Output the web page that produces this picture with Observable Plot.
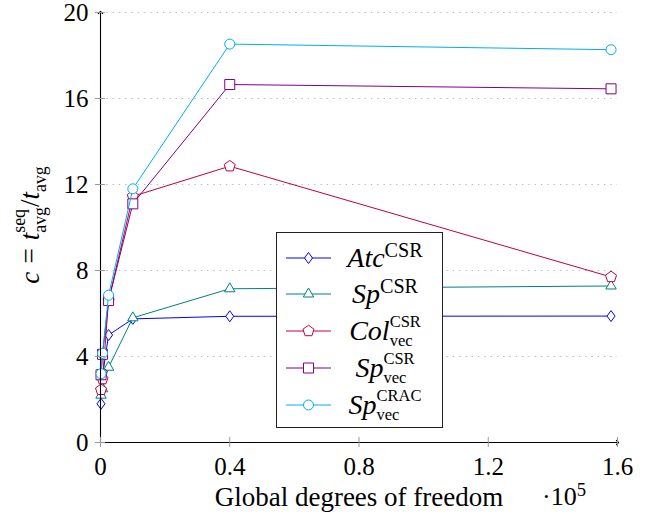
<!DOCTYPE html>
<html><head><meta charset="utf-8">
<script src="https://cdn.jsdelivr.net/npm/d3@7"></script>
<script src="https://cdn.jsdelivr.net/npm/@observablehq/plot@0.6"></script>
<style>
body{margin:0;background:#fff;}
#wrap{position:relative;width:650px;height:525px;font-family:"Liberation Serif","Tinos","Times New Roman","DejaVu Serif",serif;color:#000;overflow:hidden;}
#wrap svg.plot{position:absolute;left:0;top:0;}
.ov{position:absolute;white-space:nowrap;}
#xlabel{left:59px;width:600px;top:482px;font-size:27px;text-align:center;}
#xexp{left:542px;top:482px;font-size:26px;}
#ylabel{left:30px;top:225px;font-size:27px;transform:translate(-50%,-50%) rotate(-90deg);}
#legend{position:absolute;left:276px;top:232px;width:165px;height:194px;border:1.3px solid #222;background:#fff;}
.row{position:absolute;left:0;width:165px;height:0;}
.row svg{position:absolute;left:6px;top:-12px;}
.lab{position:absolute;left:52px;width:112px;top:-20px;height:40px;line-height:40px;text-align:center;font-size:28px;white-space:nowrap;}
i{font-style:italic;}
.sup1{font-size:0.72em;vertical-align:0.5em;line-height:0;}
.ss{display:inline-block;font-size:0.66em;line-height:1.16em;vertical-align:-0.42em;text-align:left;}
.ss span{display:block;}
.lab .ss{font-size:16.5px;line-height:18.2px;vertical-align:-5.5px;}
.sp{padding:0 0.3em;}
</style></head><body>
<div id="wrap"></div>
<script>
// ---- data ----
const dof = [0.0016, 0.0063, 0.025, 0.1, 0.4, 1.58];          // global DOF, ×10^5
const atcCSR    = [1.8, 3.1, 5.0, 5.75, 5.87, 5.88];
const spCSR     = [2.2, 2.5, 3.5, 5.8, 7.15, 7.28];
const colVecCSR = [2.45, 2.95, 6.6, 11.45, 12.85, 7.7];
const spVecCSR  = [3.15, 4.1, 6.6, 11.1, 16.65, 16.45];
const spVecCRAC = [3.2, 4.15, 6.85, 11.8, 18.53, 18.27];
const xTicks = [0, 0.4, 0.8, 1.2, 1.6];
const yTicks = [0, 4, 8, 12, 16, 20];
const xDomain = [0, 1.6];
const yDomain = [0, 20];
const seriesLabels = [
  '<i>Atc</i><span class="sup1">CSR</span>',
  '<i>Sp</i><span class="sup1">CSR</span>',
  '<i>Col</i><span class="ss"><span>CSR</span><span>vec</span></span>',
  '<i>Sp</i><span class="ss"><span>CSR</span><span>vec</span></span>',
  '<i>Sp</i><span class="ss"><span>CRAC</span><span>vec</span></span>'
];
const colors = ["#0000ff", "#008080", "#bf0040", "#800080", "#00aeef"];

// ---- marker shapes ----
const diamondSym = {draw(c){c.moveTo(0,-5.5);c.lineTo(4,0);c.lineTo(0,5.5);c.lineTo(-4,0);c.closePath();}};
const triangleSym = {draw(c){const r=6;c.moveTo(0,-r);c.lineTo(r*0.866,r*0.5);c.lineTo(-r*0.866,r*0.5);c.closePath();}};
const pentagonSym = {draw(c){const r=5.8;for(let k=0;k<5;k++){const a=-Math.PI/2+k*2*Math.PI/5;const px=r*Math.cos(a),py=r*Math.sin(a);if(k===0)c.moveTo(px,py);else c.lineTo(px,py);}c.closePath();}};
const squareSym = {draw(c){const h=5;c.moveTo(-h,-h);c.lineTo(h,-h);c.lineTo(h,h);c.lineTo(-h,h);c.closePath();}};
const circleSym = {draw(c){const r=5;c.moveTo(r,0);c.arc(0,0,r,0,2*Math.PI);c.closePath();}};
const symbols = [diamondSym, triangleSym, pentagonSym, squareSym, circleSym];
const seriesValues = [atcCSR, spCSR, colVecCSR, spVecCSR, spVecCRAC];

const seriesMarks = seriesValues.flatMap((vals, si) => {
  const d = dof.map((x, i) => ({x, y: vals[i]}));
  return [
    Plot.line(d, {x: "x", y: "y", stroke: colors[si], strokeWidth: 1}),
    Plot.dot(d, {x: "x", y: "y", symbol: symbols[si], stroke: colors[si], fill: "white", strokeWidth: 1, r: 5})
  ];
});

const chart = Plot.plot({
  width: 650, height: 525,
  marginLeft: 100, marginRight: 33, marginTop: 12, marginBottom: 83,
  style: {fontFamily: '"Liberation Serif","Tinos","Times New Roman","DejaVu Serif",serif', fontSize: "25px", color: "black", background: "white", overflow: "visible"},
  x: {domain: xDomain, label: null},
  y: {domain: yDomain, label: null},
  marks: [
    Plot.gridY(yTicks.filter(v => v > 0), {stroke: "#b8b8b8", strokeOpacity: 1, strokeDasharray: "1.3,5", strokeWidth: 1}),
    ...seriesMarks,
    Plot.line([{x: xDomain[0], y: yDomain[0]}, {x: xDomain[1], y: yDomain[0]}], {x: "x", y: "y", stroke: "black", strokeWidth: 1.1, markerEnd: "arrow"}),
    Plot.line([{x: xDomain[0], y: yDomain[0]}, {x: xDomain[0], y: yDomain[1]}], {x: "x", y: "y", stroke: "black", strokeWidth: 1.1, markerEnd: "arrow"}),
    Plot.axisX(xTicks, {tickSize: 5, tickPadding: 10, stroke: "#999", fill: "black", tickFormat: d => String(d), label: null}),
    Plot.axisX(xTicks, {tickSize: -5, stroke: "#999", tickFormat: () => "", label: null}),
    Plot.axisY(yTicks, {tickSize: 5, tickPadding: 7, stroke: "#999", fill: "black", tickFormat: d => String(d), label: null}),
    Plot.axisY(yTicks, {tickSize: -5, stroke: "#999", tickFormat: () => "", label: null})
  ]
});
chart.classList.add("plot");
const wrap = document.getElementById("wrap");
wrap.appendChild(chart);

// ---- axis labels ----
const xl = document.createElement("div"); xl.className = "ov"; xl.id = "xlabel";
xl.textContent = "Global degrees of freedom"; wrap.appendChild(xl);
const xe = document.createElement("div"); xe.className = "ov"; xe.id = "xexp";
xe.innerHTML = '·10<span class="sup1">5</span>'; wrap.appendChild(xe);
const yl = document.createElement("div"); yl.className = "ov"; yl.id = "ylabel";
yl.innerHTML = '<i>c</i><span class="sp">=</span><i>t</i><span class="ss"><span>seq</span><span>avg</span></span>/<i>t</i><span class="ss"><span>&nbsp;</span><span>avg</span></span>';
wrap.appendChild(yl);

// ---- legend ----
const legend = document.createElement("div"); legend.id = "legend"; wrap.appendChild(legend);
const rowCenters = [25, 61, 98, 135, 172];
seriesLabels.forEach((lab, si) => {
  const row = document.createElement("div"); row.className = "row"; row.style.top = rowCenters[si] + "px";
  const svg = d3.create("svg").attr("width", 50).attr("height", 24);
  svg.append("line").attr("x1", 3).attr("x2", 48).attr("y1", 12).attr("y2", 12).attr("stroke", colors[si]).attr("stroke-width", 1);
  svg.append("path").attr("transform", "translate(25.5,12)").attr("d", d3.symbol(symbols[si])()).attr("fill", "white").attr("stroke", colors[si]).attr("stroke-width", 1);
  row.appendChild(svg.node());
  const t = document.createElement("div"); t.className = "lab"; t.innerHTML = lab; row.appendChild(t);
  legend.appendChild(row);
});
</script>
</body></html>
